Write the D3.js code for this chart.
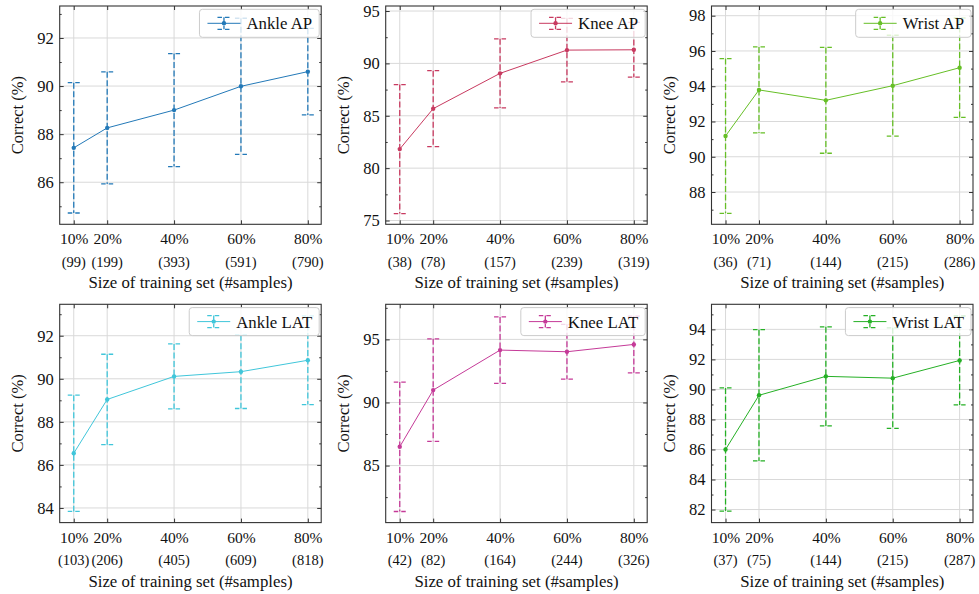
<!DOCTYPE html>
<html>
<head>
<meta charset="utf-8">
<script src="https://cdn.jsdelivr.net/npm/d3@7"></script>
<style>
  html, body { margin: 0; padding: 0; background: #fff; }
  svg { display: block; }
  text { font-family: "Liberation Serif", "DejaVu Serif", serif; fill: #111; }
</style>
</head>
<body>
<svg id="chart" width="979" height="594" font-family="Liberation Serif, DejaVu Serif, serif"></svg>
<script>
// ── 데이터 ─────────────────────────────────────────────────────────────
const PCTS       = [10, 20, 40, 60, 80];
const PCT_LABELS = ['10%', '20%', '40%', '60%', '80%'];
const PANELS     = ['Ankle AP', 'Knee AP', 'Wrist AP', 'Ankle LAT', 'Knee LAT', 'Wrist LAT'];
const COLORS     = ['#2379b8', '#c83a60', '#66bf26', '#40c6da', '#c53a98', '#25b025'];

const SAMPLES = [
  [99, 199, 393, 591, 790],
  [38, 78, 157, 239, 319],
  [36, 71, 144, 215, 286],
  [103, 206, 405, 609, 818],
  [42, 82, 164, 244, 326],
  [37, 75, 144, 215, 287],
];

const MEANS = [
  [87.43, 88.26, 89.00, 89.99, 90.60],
  [81.82, 85.68, 89.05, 91.27, 91.30],
  [91.18, 93.79, 93.20, 94.03, 95.05],
  [86.54, 89.04, 90.11, 90.33, 90.86],
  [86.49, 90.98, 94.15, 94.02, 94.60],
  [86.00, 89.61, 90.87, 90.75, 91.93],
];

const ERRS = [
  [2.71, 2.33, 2.35, 2.83, 1.80],
  [6.16, 3.63, 3.30, 3.03, 2.61],
  [4.39, 2.44, 3.00, 2.86, 2.82],
  [2.70, 2.10, 1.51, 1.71, 2.06],
  [5.13, 4.06, 2.63, 2.17, 2.25],
  [4.10, 4.37, 3.30, 3.35, 2.96],
];

const Y_DOMAINS = [
  [84.25, 93.33], [74.64, 95.48], [86.17, 98.55],
  [83.32, 93.46], [80.48, 97.78], [81.13, 95.67],
];
const Y_STEPS  = [2, 5, 2, 2, 5, 2];
const X_DOMAIN = [5.8, 84];

const X_TITLE = 'Size of training set (#samples)';
const Y_TITLE = 'Correct (%)';

// ── 레이아웃 ───────────────────────────────────────────────────────────
const COL_X = [59.7, 385.7, 711.5];
const ROW_Y = [6, 304.3];
const BOX_W = 261.5;
const BOX_H = 218.3;

const svg = d3.select('#chart');

PANELS.forEach((name, i) => {
  const col = i % 3, row = Math.floor(i / 3);
  const color = COLORS[i];
  const g = svg.append('g').attr('transform', `translate(${COL_X[col]},${ROW_Y[row]})`);

  const x = d3.scaleLinear().domain(X_DOMAIN).range([0, BOX_W]);
  const y = d3.scaleLinear().domain(Y_DOMAINS[i]).range([BOX_H, 0]);

  const step = Y_STEPS[i];
  const [y0, y1] = Y_DOMAINS[i];
  const majors = d3.range(Math.ceil(y0 / step) * step, y1 + 1e-9, step);
  const minors = d3.range(Math.ceil(y0 / (step / 2)) * (step / 2), y1 + 1e-9, step / 2)
    .filter(v => Math.abs(v / step - Math.round(v / step)) > 1e-6);

  // 격자
  const grid = g.append('g').attr('stroke', '#d9d9d9').attr('stroke-width', 1);
  grid.selectAll('line.gy').data(majors).join('line').attr('class', 'gy')
    .attr('x1', 0).attr('x2', BOX_W).attr('y1', d => y(d)).attr('y2', d => y(d));
  grid.selectAll('line.gx').data(PCTS).join('line').attr('class', 'gx')
    .attr('y1', 0).attr('y2', BOX_H).attr('x1', d => x(d)).attr('x2', d => x(d));

  // 데이터
  const plot = g.append('g');
  const pts = PCTS.map((p, k) => ({ p, m: MEANS[i][k], e: ERRS[i][k] }));

  plot.selectAll('line.err').data(pts).join('line')
    .attr('class', 'err')
    .attr('x1', d => x(d.p)).attr('x2', d => x(d.p))
    .attr('y1', d => y(d.m + d.e)).attr('y2', d => y(d.m - d.e))
    .attr('stroke', color).attr('stroke-width', 1.3)
    .attr('stroke-dasharray', '6,2.5');

  [1, -1].forEach((sign, s) => {
    plot.selectAll(`line.cap${s}`).data(pts).join('line')
      .attr('class', `cap${s}`)
      .attr('x1', d => x(d.p) - 6).attr('x2', d => x(d.p) + 6)
      .attr('y1', d => y(d.m + sign * d.e))
      .attr('y2', d => y(d.m + sign * d.e))
      .attr('stroke', color).attr('stroke-width', 1.3)
      .attr('stroke-dasharray', '4.5,3');
  });

  plot.append('path').datum(pts)
    .attr('d', d3.line().x(d => x(d.p)).y(d => y(d.m)))
    .attr('fill', 'none').attr('stroke', color).attr('stroke-width', 1);

  plot.selectAll('circle').data(pts).join('circle')
    .attr('cx', d => x(d.p)).attr('cy', d => y(d.m)).attr('r', 2.2)
    .attr('fill', color);

  // 틱 (안쪽 방향, 네 변)
  const tk = g.append('g');
  const yl = tk.append('g')
    .call(d3.axisLeft(y).tickValues(majors).tickSize(-4).tickPadding(6).tickFormat(d3.format('d')));
  tk.append('g').call(d3.axisLeft(y).tickValues(minors).tickSize(-2).tickFormat(''));
  tk.append('g').attr('transform', `translate(${BOX_W},0)`)
    .call(d3.axisRight(y).tickValues(majors).tickSize(-4).tickFormat(''));
  tk.append('g').attr('transform', `translate(${BOX_W},0)`)
    .call(d3.axisRight(y).tickValues(minors).tickSize(-2).tickFormat(''));
  const xl = tk.append('g').attr('transform', `translate(0,${BOX_H})`)
    .call(d3.axisBottom(x).tickValues(PCTS).tickSize(-4).tickPadding(9)
      .tickFormat((d, k) => PCT_LABELS[k]));
  tk.append('g')
    .call(d3.axisTop(x).tickValues(PCTS).tickSize(-4).tickFormat(''));
  tk.selectAll('.domain').remove();
  tk.selectAll('line').attr('stroke', '#333').attr('stroke-width', 1);
  tk.selectAll('g').attr('font-family', null).attr('font-size', null);
  yl.selectAll('text').attr('font-size', 16.5).attr('fill', '#111');
  xl.selectAll('text').attr('font-size', 15.5).attr('fill', '#111');

  // 샘플 수
  g.append('g').selectAll('text').data(SAMPLES[i]).join('text')
    .attr('x', (d, k) => x(PCTS[k]))
    .attr('y', BOX_H + 42.5)
    .attr('text-anchor', 'middle')
    .attr('font-size', 14.5)
    .text(d => `(${d})`);

  // 축 제목
  g.append('text')
    .attr('x', BOX_W / 2).attr('y', BOX_H + 64)
    .attr('text-anchor', 'middle').attr('font-size', 16.8)
    .text(X_TITLE);
  g.append('text')
    .attr('transform', `translate(-37,${BOX_H / 2}) rotate(-90)`)
    .attr('text-anchor', 'middle').attr('font-size', 16.5)
    .text(Y_TITLE);

  // 범례
  const lg = g.append('g');
  const lt = lg.append('text').attr('x', 47).attr('y', 20).attr('font-size', 16.8).text(name);
  const lw = 47 + lt.node().getComputedTextLength() + 7;
  lg.attr('transform', `translate(${BOX_W - 2 - lw},3.3)`);
  lg.insert('rect', 'text')
    .attr('width', lw).attr('height', 28).attr('rx', 3)
    .attr('fill', 'rgba(255,255,255,0.8)').attr('stroke', '#cccccc').attr('stroke-width', 1);
  lg.insert('line', 'text').attr('x1', 8).attr('x2', 41).attr('y1', 14).attr('y2', 14)
    .attr('stroke', color).attr('stroke-width', 1);
  lg.insert('line', 'text').attr('x1', 24.5).attr('x2', 24.5).attr('y1', 8).attr('y2', 20)
    .attr('stroke', color).attr('stroke-width', 1.3).attr('stroke-dasharray', '6,2.5');
  [8, 20].forEach(cy => {
    lg.insert('line', 'text').attr('x1', 18).attr('x2', 31).attr('y1', cy).attr('y2', cy)
      .attr('stroke', color).attr('stroke-width', 1.3).attr('stroke-dasharray', '4.5,3');
  });
  lg.insert('circle', 'text').attr('cx', 24.5).attr('cy', 14).attr('r', 2.2).attr('fill', color);

  // 테두리
  g.append('rect').attr('width', BOX_W).attr('height', BOX_H)
    .attr('fill', 'none').attr('stroke', '#333').attr('stroke-width', 1.1);
});
</script>
</body>
</html>
